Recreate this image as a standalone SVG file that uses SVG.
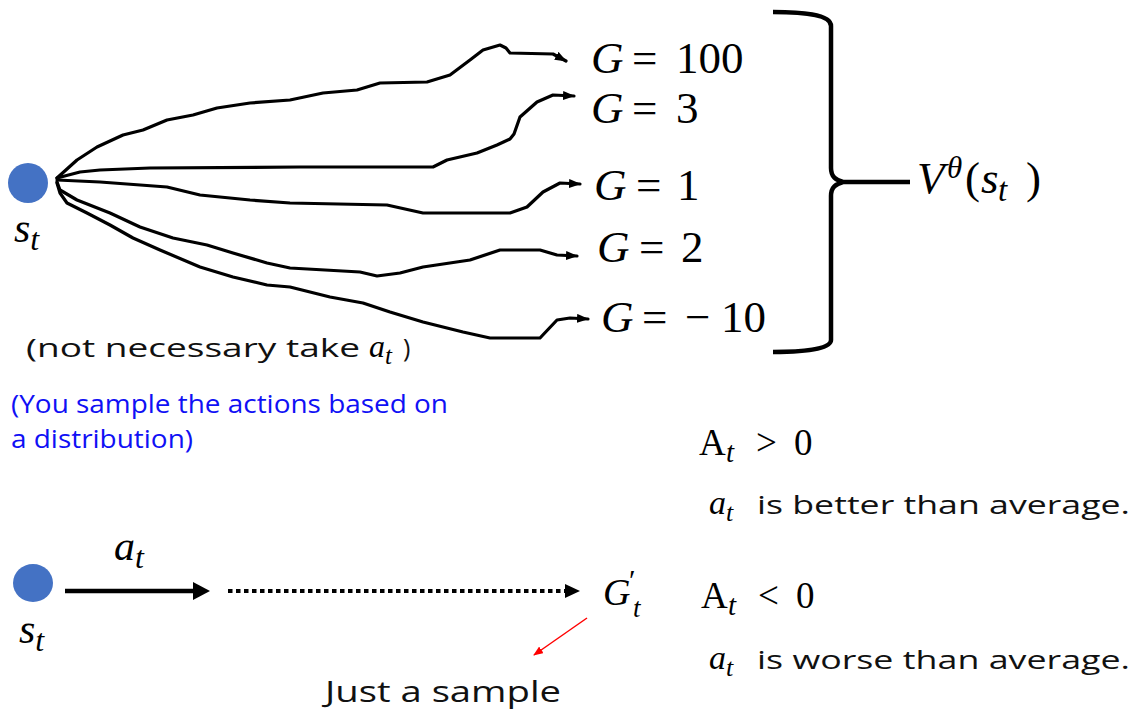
<svg xmlns="http://www.w3.org/2000/svg" width="1141" height="711" viewBox="0 0 1141 711">
<defs>
<style>
.bg{fill:#ffffff}
.node{fill:#4472c4}
.curve{fill:none;stroke:#000;stroke-width:3.2;stroke-linejoin:round;stroke-linecap:round}
.math{font-family:"Liberation Serif",serif;fill:#000}
.it{font-style:italic}
.sans{font-family:"Open Sans","Liberation Sans",sans-serif;fill:#111}
.blue{font-family:"Open Sans","Liberation Sans",sans-serif;fill:#1010f5}
.brace{fill:none;stroke:#000;stroke-width:4.5;stroke-linejoin:round}
</style>
<marker id="ah" viewBox="0 0 12 9" refX="11" refY="4.5" markerWidth="12" markerHeight="9" markerUnits="userSpaceOnUse" orient="auto">
<path d="M0,0 L12,4.5 L0,9 z" fill="#000"/>
</marker>
<marker id="ahr" viewBox="0 0 10 8" refX="9" refY="4" markerWidth="10" markerHeight="8" markerUnits="userSpaceOnUse" orient="auto">
<path d="M0,0 L10,4 L0,8 z" fill="#ff0000"/>
</marker>
</defs>
<rect class="bg" x="0" y="0" width="1141" height="711"/>

<g id="node-st-top">
<ellipse class="node" cx="28" cy="183" rx="20" ry="20"/>
<text class="math it" x="14" y="242" font-size="42">s<tspan font-size="32" dy="8">t</tspan></text>
</g>

<g id="connectors">
<path class="curve" marker-end="url(#ah)" d="M57,178 L77,160 L97,147 L123,135 L143,130 L167,120 L193,115 L217,108 L250,103 L290,100 L323,93 L357,90 L380,83 L427,82 L450,75 L470,60 L483,50 L500,45 L506,48 L510,53 L553,54 L566,61"/>
<path class="curve" marker-end="url(#ah)" d="M57,178 L80,172 L100,170 L150,168 L300,167 L433,167 L447,160 L477,153 L497,145 L510,139 L514,134 L520,117 L537,102 L553,95 L574,96"/>
<path class="curve" marker-end="url(#ah)" d="M57,180 L100,182 L167,187 L200,195 L250,200 L290,203 L387,205 L423,213 L510,213 L527,207 L543,192 L560,183 L580,184"/>
<path class="curve" marker-end="url(#ah)" d="M57,182 L60,190 L77,200 L110,213 L140,227 L173,238 L207,245 L233,253 L267,263 L290,268 L360,272 L377,276 L400,273 L423,267 L470,260 L500,250 L540,250 L557,255 L577,256"/>
<path class="curve" marker-end="url(#ah)" d="M57,183 L60,193 L67,203 L87,213 L110,225 L133,238 L160,250 L200,267 L233,277 L267,285 L290,287 L330,297 L363,303 L390,312 L423,322 L463,332 L490,338 L540,338 L557,320 L570,318 L588,319"/>
<path d="M65,591 L196,591" stroke="#000" stroke-width="4.5" fill="none"/>
<path d="M193,582 L210,591 L193,600 z" fill="#000"/>
<path d="M228,591 L566,591" stroke="#000" stroke-width="4" stroke-dasharray="4.5 3.5" fill="none"/>
<path d="M565,584 L580,591 L565,598 z" fill="#000"/>
<path d="M587,618 L534,655" stroke="#ff0000" stroke-width="1.5" fill="none" marker-end="url(#ahr)"/>
</g>

<g id="label-g100"><text class="math" y="73" font-size="45"><tspan class="it" x="591">G</tspan><tspan x="632">=</tspan><tspan x="676">100</tspan></text></g>
<g id="label-g3"><text class="math" y="123" font-size="45"><tspan class="it" x="591">G</tspan><tspan x="632">=</tspan><tspan x="676">3</tspan></text></g>
<g id="label-g1"><text class="math" y="200" font-size="45"><tspan class="it" x="594">G</tspan><tspan x="636">=</tspan><tspan x="677">1</tspan></text></g>
<g id="label-g2"><text class="math" y="262" font-size="45"><tspan class="it" x="597">G</tspan><tspan x="639">=</tspan><tspan x="681">2</tspan></text></g>
<g id="label-gm10"><text class="math" y="332" font-size="45"><tspan class="it" x="601">G</tspan><tspan x="642">=</tspan><tspan x="685">−</tspan><tspan x="721">10</tspan></text></g>

<g id="brace">
<path class="brace" d="M773,12 C800,12 831,14 831,26 L831,168 C831,177 836,180 843,182 L910,182 M843,182 C836,184 831,187 831,196 L831,340 C831,350 800,352 773,352"/>
</g>

<g id="label-v">
<text class="math" y="193" font-size="45"><tspan class="it" x="917">V</tspan><tspan class="it" x="947" y="178" font-size="31">θ</tspan><tspan x="965" y="193">(</tspan><tspan class="it" x="981">s</tspan><tspan class="it" x="998" y="201" font-size="33">t</tspan><tspan x="1026" y="193">)</tspan></text>
</g>

<g id="note-not-necessary">
<text class="sans" x="26" y="357" font-size="25" textLength="334" lengthAdjust="spacingAndGlyphs">(not necessary take</text>
<text class="math it" x="369" y="357" font-size="32">a<tspan font-size="25" dy="7">t</tspan></text>
<text class="sans" x="403" y="357" font-size="25">)</text>
</g>

<g id="note-blue">
<text class="blue" x="11" y="413" font-size="26" textLength="437" lengthAdjust="spacingAndGlyphs">(You sample the actions based on</text>
<text class="blue" x="11" y="448" font-size="26" textLength="182" lengthAdjust="spacingAndGlyphs">a distribution)</text>
</g>

<g id="label-apos">
<text class="math" y="455" font-size="37"><tspan x="699">A</tspan><tspan class="it" x="726" y="462" font-size="29">t</tspan><tspan x="756" y="455">&gt;</tspan><tspan x="794">0</tspan></text>
<text class="math it" x="709" y="514" font-size="34">a<tspan font-size="26" dy="7">t</tspan></text>
<text class="sans" x="757" y="514" font-size="26" textLength="373" lengthAdjust="spacingAndGlyphs">is better than average.</text>
</g>

<g id="node-st-bottom">
<ellipse class="node" cx="33" cy="583" rx="20" ry="19"/>
<text class="math it" x="19" y="643" font-size="42">s<tspan font-size="32" dy="8">t</tspan></text>
</g>

<g id="label-at">
<text class="math it" x="114" y="560" font-size="42">a<tspan font-size="32" dy="8">t</tspan></text>
</g>

<g id="label-gprime">
<text class="math it" x="603" y="605" font-size="38">G<tspan x="629" y="590" font-size="30" font-style="normal">′</tspan><tspan x="633" y="617" font-size="27">t</tspan></text>
</g>

<g id="label-aneg">
<text class="math" y="608" font-size="37"><tspan x="701">A</tspan><tspan class="it" x="728" y="615" font-size="29">t</tspan><tspan x="758" y="608">&lt;</tspan><tspan x="796">0</tspan></text>
<text class="math it" x="709" y="669" font-size="34">a<tspan font-size="26" dy="7">t</tspan></text>
<text class="sans" x="757" y="669" font-size="26" textLength="373" lengthAdjust="spacingAndGlyphs">is worse than average.</text>
</g>

<g id="label-sample">
<text class="sans" x="325" y="702" font-size="30" textLength="236" lengthAdjust="spacingAndGlyphs">Just a sample</text>
</g>
</svg>
